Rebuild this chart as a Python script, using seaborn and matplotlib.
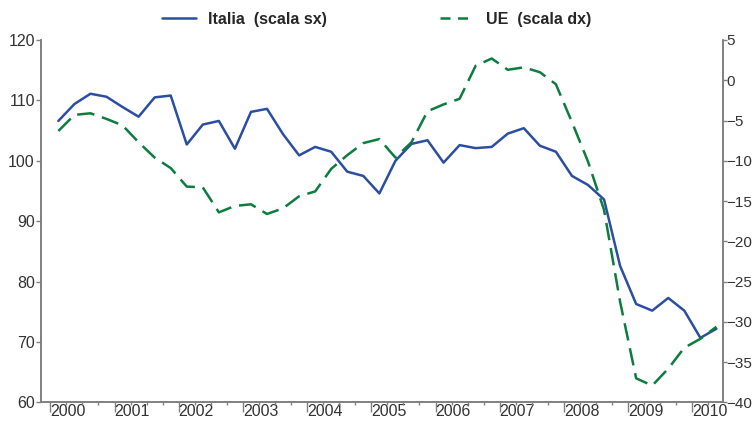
import numpy as np
import pandas as pd
import matplotlib
matplotlib.use('Agg')
import matplotlib.pyplot as plt
import seaborn as sns

# trimestri 2000Q1 - 2010Q2
anni = list(range(2000, 2011))
trimestri = [a + (q - 1) * 0.25 + 0.125 for a in anni for q in range(1, 5)][:42]

# Italia (scala sx)
italia = [106.6, 109.4, 111.1, 110.6, 108.9, 107.3, 110.5, 110.8,
          102.7, 106.0, 106.6, 102.0, 108.1, 108.6, 104.4, 100.9,
          102.3, 101.5, 98.2, 97.5, 94.6, 100.0, 102.8, 103.4,
          99.7, 102.6, 102.1, 102.3, 104.5, 105.4, 102.5, 101.5,
          97.5, 96.0, 93.6, 82.6, 76.3, 75.2, 77.3, 75.2,
          70.7, 72.2]

# UE (scala dx)
ue = [-6.3, -4.3, -4.1, -4.8, -5.6, -7.7, -9.6, -10.9,
      -13.2, -13.3, -16.4, -15.6, -15.4, -16.6, -15.9, -14.4,
      -13.8, -11.0, -9.3, -7.8, -7.3, -9.6, -7.7, -3.85,
      -3.0, -2.3, 1.8, 2.7, 1.3, 1.6, 1.0, -0.5,
      -5.2, -10.1, -16.1, -27.5, -37.0, -37.9, -35.8, -33.2,
      -32.1, -30.6]

df = pd.DataFrame({'t': trimestri, 'italia': italia, 'ue': ue})

sns.set_style('white')
plt.rcParams['font.family'] = ['Liberation Sans', 'DejaVu Sans']
plt.rcParams['font.size'] = 11.5

blu = '#2b4ea2'
verde = '#0b7d3e'
grigio = '#808080'
testo = '#333333'

fig = plt.figure(figsize=(7.53, 4.23), dpi=100)
ax = fig.add_axes([0.0545, 0.0485, 0.905, 0.857])
ax2 = ax.twinx()

sns.lineplot(data=df, x='t', y='italia', ax=ax, color=blu, lw=1.8)
sns.lineplot(data=df, x='t', y='ue', ax=ax2, color=verde, lw=1.8)
ax2.lines[0].set_dashes((7, 3.2))

ax.set_xlim(1999.855, 2010.47)
ax.set_ylim(60, 120)
ax2.set_ylim(-40, 5)
ax.set_yticks(range(60, 121, 10))
ax2.set_yticks(range(-40, 6, 5))
ax.set_xticks(anni)
ax.set_xticklabels([str(a) for a in anni], ha='left')
ax.set_xticks([a + q * 0.25 for a in range(1999, 2011) for q in range(4)
               if 1999.855 < a + q * 0.25 < 2010.47], minor=True)
ax.set_xlabel('')
ax.set_ylabel('')
ax2.set_ylabel('')

for a in (ax, ax2):
    for s in a.spines.values():
        s.set_color(grigio)
        s.set_linewidth(1.2)
    a.spines['top'].set_visible(False)
    a.grid(False)

ax.tick_params(axis='x', which='major', direction='out', length=7, width=1,
               color=grigio, labelcolor=testo, pad=-6, bottom=True)
ax.tick_params(axis='x', which='minor', direction='out', length=2.5, width=1,
               color=grigio, bottom=True)
ax.tick_params(axis='y', direction='out', length=3.5, width=1, color=grigio,
               labelcolor=testo, pad=1, left=True)
ax2.tick_params(axis='y', direction='out', length=3, width=1, color=grigio,
                labelcolor=testo, pad=0, right=True, labelsize=11)
for lab in ax.get_xticklabels():
    lab.set_horizontalalignment('left')

maniglie = [plt.Line2D([], [], color=blu, lw=1.8),
            plt.Line2D([], [], color=verde, lw=1.8, dashes=(4, 3))]
fig.legend(maniglie, ['Italia  (scala sx)', 'UE  (scala dx)'],
           loc='center', bbox_to_anchor=(0.5, 0.955), ncol=2, frameon=False,
           handlelength=2.1, handletextpad=0.75, columnspacing=7.1,
           prop={'weight': 'bold', 'size': 11.5})

fig.savefig('out.png', dpi=100)
